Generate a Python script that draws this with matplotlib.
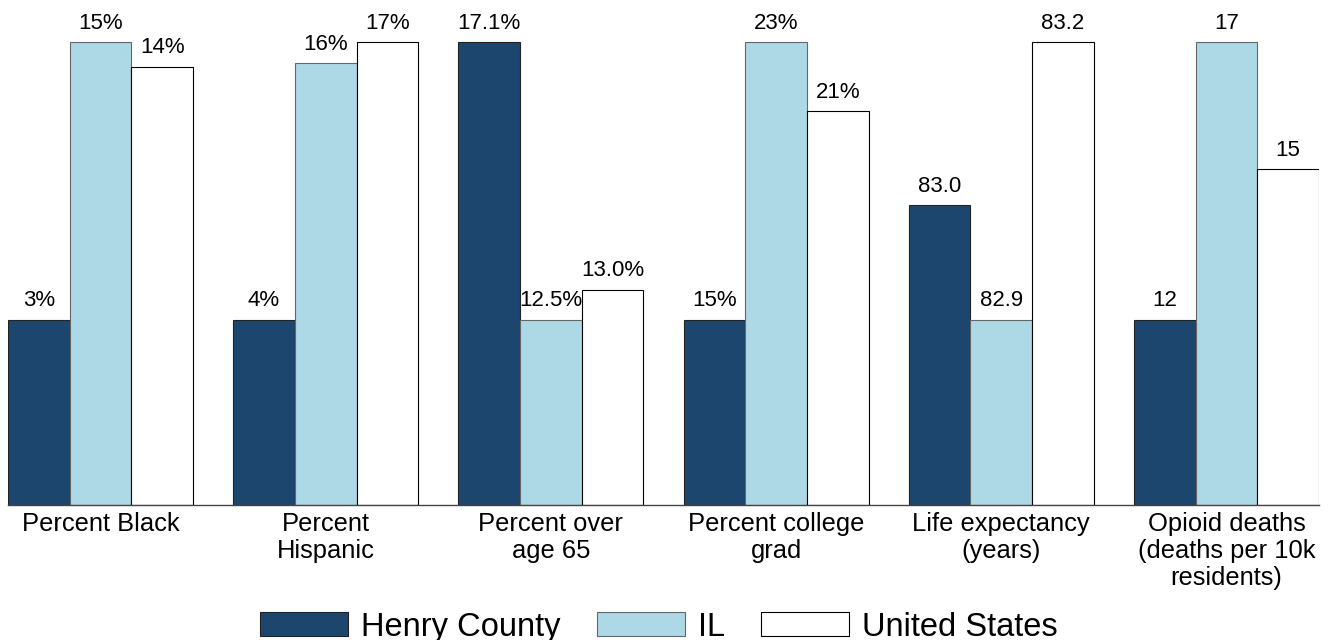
import numpy as np
import matplotlib
matplotlib.use('Agg')
import matplotlib.pyplot as plt

plt.rcParams['font.family'] = ['Liberation Sans', 'DejaVu Sans']

categories = ['Percent Black', 'Percent\nHispanic', 'Percent over\nage 65',
              'Percent college\ngrad', 'Life expectancy\n(years)',
              'Opioid deaths\n(deaths per 10k\nresidents)']
henry = [3.4, 4, 17.1, 15, 83.02, 12.4]
il = [14.6, 16, 12.5, 23, 82.88, 17.2]
us = [13.6, 17, 13.0, 21, 83.22, 15.0]
label_fmt = ['{:.0f}%', '{:.0f}%', '{:.1f}%', '{:.0f}%', '{:.1f}', '{:.0f}']
series_names = ['Henry County', 'IL', 'United States']

colors = ['#1c466d', '#add8e6', '#ffffff']
edges = ['#222222', '#666666', '#000000']

vals = np.array([henry, il, us])
# each group is scaled on its own: smallest value -> 0.4, largest -> 1.0
lo = vals.min(axis=0)
hi = vals.max(axis=0)
heights = 0.4 + 0.6 * (vals - lo) / (hi - lo)

fig = plt.figure(figsize=(13.31, 6.4), dpi=100)
ax = fig.add_axes([8 / 1331, 135 / 640, 1311 / 1331, 505 / 640])

x = np.arange(len(categories))
w = 0.274
for i, name in enumerate(series_names):
    pos = x + (i - 1) * w
    bars = ax.bar(pos, heights[i], width=w, color=colors[i], edgecolor=edges[i],
                  linewidth=0.8, label=name)
    for b, v, fmt in zip(bars, vals[i], label_fmt):
        ax.annotate(fmt.format(v), (b.get_x() + b.get_width() / 2, b.get_height()),
                    xytext=(0, 6), textcoords='offset points',
                    ha='center', va='bottom', fontsize=16)

ax.set_xlim(-1.5 * w, len(categories) - 1 + 1.5 * w)
ax.set_ylim(0, 505 / 463)
ax.set_xticks(x)
ax.set_xticklabels(categories, fontsize=18.4, linespacing=1.15)
ax.tick_params(axis='x', length=0, pad=5)
ax.set_yticks([])
for s in ['top', 'right', 'left']:
    ax.spines[s].set_visible(False)
ax.spines['bottom'].set_color('#444444')
ax.spines['bottom'].set_linewidth(1.0)

fig.legend(loc='lower center', bbox_to_anchor=(0.495, -0.05), ncol=3, frameon=False,
           fontsize=23.5, handlelength=2.7, handleheight=0.75, handletextpad=0.4,
           columnspacing=1.1)

fig.savefig('out.png', dpi=100)
